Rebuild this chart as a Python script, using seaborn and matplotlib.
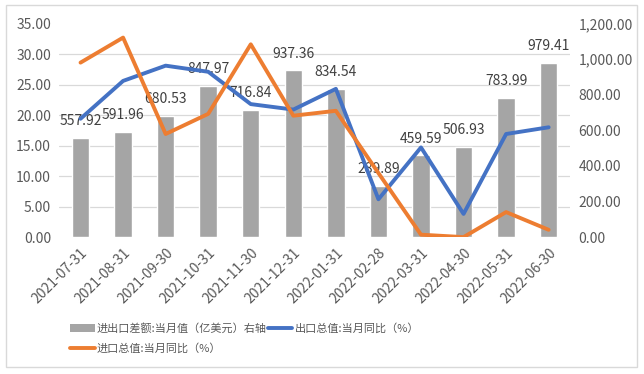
import numpy as np
import pandas as pd
import matplotlib
matplotlib.use("Agg")
import matplotlib.pyplot as plt
import seaborn as sns
from matplotlib.lines import Line2D
from matplotlib.patches import Patch, Rectangle

# ── data ───────────────────────────────────
dates = ["2021-07-31", "2021-08-31", "2021-09-30", "2021-10-31", "2021-11-30", "2021-12-31",
         "2022-01-31", "2022-02-28", "2022-03-31", "2022-04-30", "2022-05-31", "2022-06-30"]
trade_balance = [557.92, 591.96, 680.53, 847.97, 716.84, 937.36,
                 834.54, 289.89, 459.59, 506.93, 783.99, 979.41]
export_yoy = [19.4, 25.6, 28.1, 27.1, 21.8, 20.9, 24.3, 6.2, 14.7, 3.8, 16.9, 18.0]
import_yoy = [28.6, 32.7, 16.9, 20.2, 31.6, 19.9, 20.7, 10.5, 0.4, 0.0, 4.1, 1.2]

bar_name = "进出口差额:当月值（亿美元）右轴"
exp_name = "出口总值:当月同比（%）"
imp_name = "进口总值:当月同比（%）"

C_BAR, C_EXP, C_IMP = "#A5A5A5", "#4472C4", "#ED7D31"
TXT = "#595959"

sns.set_style("white")
plt.rcParams["font.family"] = ["Noto Sans CJK SC", "DejaVu Sans"]

fig = plt.figure(figsize=(6.44, 3.74), dpi=100)
ax_bar = fig.add_axes([0.092, 0.366, 0.793, 0.571])

# ── bars (right axis) ──────────────────────
df_bar = pd.DataFrame({"date": dates, "value": trade_balance})
sns.barplot(data=df_bar, x="date", y="value", color=C_BAR, width=0.41,
            saturation=1, ax=ax_bar)
ax_bar.bar_label(ax_bar.containers[0], labels=[f"{v:.2f}" for v in trade_balance],
                 padding=7, fontsize=10, color="#404040")
ax_bar.set_xlabel("")
ax_bar.set_ylabel("")
ax_bar.set_xlim(-0.5, len(dates) - 0.5)

# ── lines (left axis) ──────────────────────
ax_line = ax_bar.twinx()
df_line = pd.DataFrame({
    "date": dates * 2,
    "value": export_yoy + import_yoy,
    "series": [exp_name] * len(dates) + [imp_name] * len(dates),
})
sns.lineplot(data=df_line, x="date", y="value", hue="series", sort=False,
             palette={exp_name: C_EXP, imp_name: C_IMP}, lw=2.8, ax=ax_line,
             legend=False)

# twinx moves ticks around, so set sides afterwards
ax_bar.set_ylim(0, 1200)
ax_bar.yaxis.tick_right()
ax_bar.set_yticks(np.arange(0, 1201, 200))
ax_bar.set_yticklabels([f"{v:,.2f}" for v in np.arange(0, 1201, 200)])
# grid follows the left axis (every 5 units)
ax_bar.set_yticks(np.linspace(0, 1200, 8), minor=True)
ax_bar.grid(which="minor", axis="y", color="#D9D9D9", lw=0.9)
ax_bar.grid(which="major", axis="y", visible=False)
ax_bar.set_xticks(range(len(dates)))
ax_bar.set_xticklabels(dates, rotation=45, ha="right", rotation_mode="anchor")
ax_bar.tick_params(axis="both", which="both", length=0, labelsize=10, colors=TXT, pad=6)

ax_line.set_ylim(0, 35)
ax_line.yaxis.tick_left()
ax_line.set_yticks(np.arange(0, 36, 5))
ax_line.set_yticklabels([f"{v:.2f}" for v in np.arange(0, 36, 5)])
ax_line.tick_params(axis="y", length=0, labelsize=10, colors=TXT, pad=6)
ax_line.set_xlabel("")
ax_line.set_ylabel("")
ax_line.set_xlim(-0.5, len(dates) - 0.5)

for a in (ax_bar, ax_line):
    for s in a.spines.values():
        s.set_visible(False)

# ── legend (row-major order) ───────────────
handles = [
    Patch(facecolor=C_BAR, edgecolor="none"),
    Line2D([], [], color=C_IMP, lw=2.8),
    Line2D([], [], color=C_EXP, lw=2.8),
]
labels = [bar_name, imp_name, exp_name]
fig.legend(handles, labels, loc="upper left", bbox_to_anchor=(0.102, 0.148),
           ncol=2, frameon=False, fontsize=8, labelcolor=TXT,
           handlelength=2.2, handletextpad=0.2, columnspacing=0.1,
           labelspacing=0.8, borderaxespad=0)

fig.add_artist(Rectangle((0.009, 0.019), 0.98, 0.968, transform=fig.transFigure,
                         fill=False, ec="#D9D9D9", lw=1))

plt.savefig("out.png", dpi=100)
plt.close()
